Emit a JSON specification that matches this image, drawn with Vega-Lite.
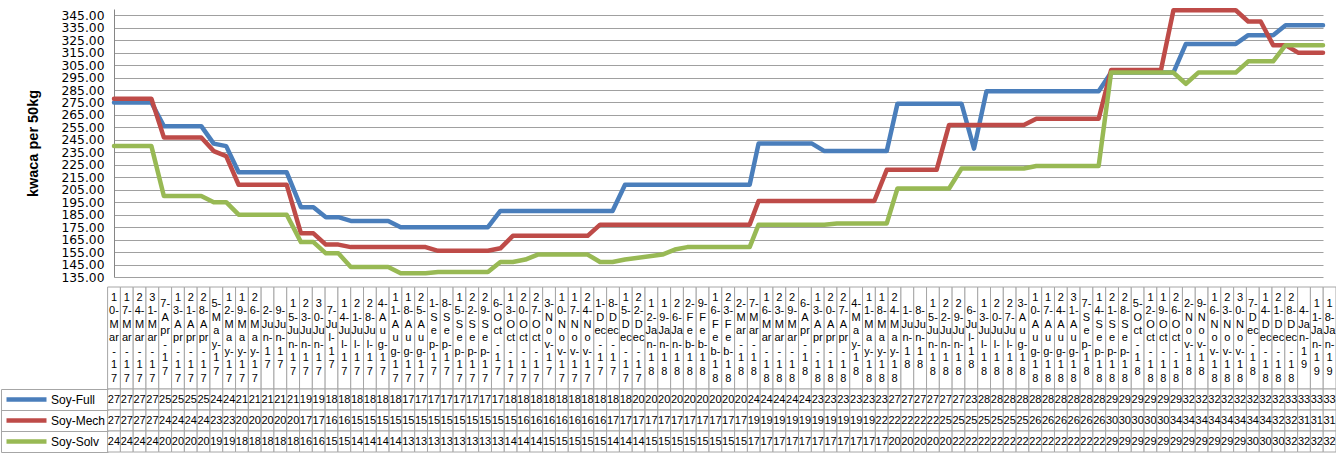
{
  "$schema": "https://vega.github.io/schema/vega-lite/v6.json",
  "padding": {"left": 0, "top": 7, "right": 0, "bottom": 0},
  "background": "white",
  "config": {"view": {"stroke": null}, "font": "Liberation Sans"},
  "datasets": {
    "prices": [
      {"d": "2017-03-10", "Soy-Full": 275, "Soy-Mech": 278, "Soy-Solv": 240},
      {"d": "2017-03-17", "Soy-Full": 275, "Soy-Mech": 278, "Soy-Solv": 240},
      {"d": "2017-03-24", "Soy-Full": 275, "Soy-Mech": 278, "Soy-Solv": 240},
      {"d": "2017-03-31", "Soy-Full": 275, "Soy-Mech": 278, "Soy-Solv": 240},
      {"d": "2017-04-07", "Soy-Full": 256, "Soy-Mech": 247, "Soy-Solv": 200},
      {"d": "2017-04-13", "Soy-Full": 256, "Soy-Mech": 247, "Soy-Solv": 200},
      {"d": "2017-04-21", "Soy-Full": 256, "Soy-Mech": 247, "Soy-Solv": 200},
      {"d": "2017-04-28", "Soy-Full": 256, "Soy-Mech": 247, "Soy-Solv": 200},
      {"d": "2017-05-05", "Soy-Full": 242, "Soy-Mech": 236, "Soy-Solv": 195},
      {"d": "2017-05-12", "Soy-Full": 240, "Soy-Mech": 232, "Soy-Solv": 195},
      {"d": "2017-05-19", "Soy-Full": 219, "Soy-Mech": 209, "Soy-Solv": 185},
      {"d": "2017-05-26", "Soy-Full": 219, "Soy-Mech": 209, "Soy-Solv": 185},
      {"d": "2017-06-02", "Soy-Full": 219, "Soy-Mech": 209, "Soy-Solv": 185},
      {"d": "2017-06-09", "Soy-Full": 219, "Soy-Mech": 209, "Soy-Solv": 185},
      {"d": "2017-06-15", "Soy-Full": 219, "Soy-Mech": 209, "Soy-Solv": 185},
      {"d": "2017-06-23", "Soy-Full": 191, "Soy-Mech": 170, "Soy-Solv": 163},
      {"d": "2017-06-30", "Soy-Full": 191, "Soy-Mech": 170, "Soy-Solv": 163},
      {"d": "2017-07-07", "Soy-Full": 183, "Soy-Mech": 161, "Soy-Solv": 154},
      {"d": "2017-07-14", "Soy-Full": 183, "Soy-Mech": 161, "Soy-Solv": 154},
      {"d": "2017-07-21", "Soy-Full": 180, "Soy-Mech": 159, "Soy-Solv": 143},
      {"d": "2017-07-28", "Soy-Full": 180, "Soy-Mech": 159, "Soy-Solv": 143},
      {"d": "2017-08-04", "Soy-Full": 180, "Soy-Mech": 159, "Soy-Solv": 143},
      {"d": "2017-08-11", "Soy-Full": 180, "Soy-Mech": 159, "Soy-Solv": 143},
      {"d": "2017-08-18", "Soy-Full": 175, "Soy-Mech": 159, "Soy-Solv": 138},
      {"d": "2017-08-25", "Soy-Full": 175, "Soy-Mech": 159, "Soy-Solv": 138},
      {"d": "2017-09-01", "Soy-Full": 175, "Soy-Mech": 159, "Soy-Solv": 138},
      {"d": "2017-09-08", "Soy-Full": 175, "Soy-Mech": 156, "Soy-Solv": 139},
      {"d": "2017-09-15", "Soy-Full": 175, "Soy-Mech": 156, "Soy-Solv": 139},
      {"d": "2017-09-22", "Soy-Full": 175, "Soy-Mech": 156, "Soy-Solv": 139},
      {"d": "2017-09-29", "Soy-Full": 175, "Soy-Mech": 156, "Soy-Solv": 139},
      {"d": "2017-10-06", "Soy-Full": 175, "Soy-Mech": 156, "Soy-Solv": 139},
      {"d": "2017-10-13", "Soy-Full": 188, "Soy-Mech": 158, "Soy-Solv": 147},
      {"d": "2017-10-20", "Soy-Full": 188, "Soy-Mech": 168, "Soy-Solv": 147},
      {"d": "2017-10-27", "Soy-Full": 188, "Soy-Mech": 168, "Soy-Solv": 149},
      {"d": "2017-11-03", "Soy-Full": 188, "Soy-Mech": 168, "Soy-Solv": 153},
      {"d": "2017-11-10", "Soy-Full": 188, "Soy-Mech": 168, "Soy-Solv": 153},
      {"d": "2017-11-17", "Soy-Full": 188, "Soy-Mech": 168, "Soy-Solv": 153},
      {"d": "2017-11-24", "Soy-Full": 188, "Soy-Mech": 168, "Soy-Solv": 153},
      {"d": "2017-12-01", "Soy-Full": 188, "Soy-Mech": 168, "Soy-Solv": 153},
      {"d": "2017-12-08", "Soy-Full": 188, "Soy-Mech": 177, "Soy-Solv": 147},
      {"d": "2017-12-15", "Soy-Full": 188, "Soy-Mech": 177, "Soy-Solv": 147},
      {"d": "2017-12-22", "Soy-Full": 209, "Soy-Mech": 177, "Soy-Solv": 149},
      {"d": "2018-01-12", "Soy-Full": 209, "Soy-Mech": 177, "Soy-Solv": 153},
      {"d": "2018-01-19", "Soy-Full": 209, "Soy-Mech": 177, "Soy-Solv": 157},
      {"d": "2018-01-26", "Soy-Full": 209, "Soy-Mech": 177, "Soy-Solv": 159},
      {"d": "2018-02-02", "Soy-Full": 209, "Soy-Mech": 177, "Soy-Solv": 159},
      {"d": "2018-02-09", "Soy-Full": 209, "Soy-Mech": 177, "Soy-Solv": 159},
      {"d": "2018-02-16", "Soy-Full": 209, "Soy-Mech": 177, "Soy-Solv": 159},
      {"d": "2018-02-23", "Soy-Full": 209, "Soy-Mech": 177, "Soy-Solv": 159},
      {"d": "2018-03-02", "Soy-Full": 209, "Soy-Mech": 177, "Soy-Solv": 159},
      {"d": "2018-03-07", "Soy-Full": 242, "Soy-Mech": 196, "Soy-Solv": 177},
      {"d": "2018-03-16", "Soy-Full": 242, "Soy-Mech": 196, "Soy-Solv": 177},
      {"d": "2018-03-23", "Soy-Full": 242, "Soy-Mech": 196, "Soy-Solv": 177},
      {"d": "2018-03-29", "Soy-Full": 242, "Soy-Mech": 196, "Soy-Solv": 177},
      {"d": "2018-04-06", "Soy-Full": 242, "Soy-Mech": 196, "Soy-Solv": 177},
      {"d": "2018-04-13", "Soy-Full": 236, "Soy-Mech": 196, "Soy-Solv": 177},
      {"d": "2018-04-20", "Soy-Full": 236, "Soy-Mech": 196, "Soy-Solv": 178},
      {"d": "2018-04-27", "Soy-Full": 236, "Soy-Mech": 196, "Soy-Solv": 178},
      {"d": "2018-05-04", "Soy-Full": 236, "Soy-Mech": 196, "Soy-Solv": 178},
      {"d": "2018-05-11", "Soy-Full": 236, "Soy-Mech": 196, "Soy-Solv": 178},
      {"d": "2018-05-18", "Soy-Full": 236, "Soy-Mech": 221, "Soy-Solv": 178},
      {"d": "2018-05-24", "Soy-Full": 274, "Soy-Mech": 221, "Soy-Solv": 206},
      {"d": "2018-06-01", "Soy-Full": 274, "Soy-Mech": 221, "Soy-Solv": 206},
      {"d": "2018-06-08", "Soy-Full": 274, "Soy-Mech": 221, "Soy-Solv": 206},
      {"d": "2018-06-15", "Soy-Full": 274, "Soy-Mech": 221, "Soy-Solv": 206},
      {"d": "2018-06-22", "Soy-Full": 274, "Soy-Mech": 257, "Soy-Solv": 206},
      {"d": "2018-06-29", "Soy-Full": 274, "Soy-Mech": 257, "Soy-Solv": 222},
      {"d": "2018-07-06", "Soy-Full": 238, "Soy-Mech": 257, "Soy-Solv": 222},
      {"d": "2018-07-13", "Soy-Full": 284, "Soy-Mech": 257, "Soy-Solv": 222},
      {"d": "2018-07-20", "Soy-Full": 284, "Soy-Mech": 257, "Soy-Solv": 222},
      {"d": "2018-07-27", "Soy-Full": 284, "Soy-Mech": 257, "Soy-Solv": 222},
      {"d": "2018-08-03", "Soy-Full": 284, "Soy-Mech": 257, "Soy-Solv": 222},
      {"d": "2018-08-10", "Soy-Full": 284, "Soy-Mech": 262, "Soy-Solv": 224},
      {"d": "2018-08-17", "Soy-Full": 284, "Soy-Mech": 262, "Soy-Solv": 224},
      {"d": "2018-08-24", "Soy-Full": 284, "Soy-Mech": 262, "Soy-Solv": 224},
      {"d": "2018-08-31", "Soy-Full": 284, "Soy-Mech": 262, "Soy-Solv": 224},
      {"d": "2018-09-07", "Soy-Full": 284, "Soy-Mech": 262, "Soy-Solv": 224},
      {"d": "2018-09-14", "Soy-Full": 284, "Soy-Mech": 262, "Soy-Solv": 224},
      {"d": "2018-09-21", "Soy-Full": 299, "Soy-Mech": 301, "Soy-Solv": 299},
      {"d": "2018-09-28", "Soy-Full": 299, "Soy-Mech": 301, "Soy-Solv": 299},
      {"d": "2018-10-05", "Soy-Full": 299, "Soy-Mech": 301, "Soy-Solv": 299},
      {"d": "2018-10-12", "Soy-Full": 299, "Soy-Mech": 301, "Soy-Solv": 299},
      {"d": "2018-10-19", "Soy-Full": 299, "Soy-Mech": 301, "Soy-Solv": 299},
      {"d": "2018-10-26", "Soy-Full": 299, "Soy-Mech": 349, "Soy-Solv": 299},
      {"d": "2018-11-02", "Soy-Full": 322, "Soy-Mech": 349, "Soy-Solv": 290},
      {"d": "2018-11-09", "Soy-Full": 322, "Soy-Mech": 349, "Soy-Solv": 299},
      {"d": "2018-11-16", "Soy-Full": 322, "Soy-Mech": 349, "Soy-Solv": 299},
      {"d": "2018-11-23", "Soy-Full": 322, "Soy-Mech": 349, "Soy-Solv": 299},
      {"d": "2018-11-30", "Soy-Full": 322, "Soy-Mech": 349, "Soy-Solv": 299},
      {"d": "2018-12-07", "Soy-Full": 329, "Soy-Mech": 340, "Soy-Solv": 308},
      {"d": "2018-12-14", "Soy-Full": 329, "Soy-Mech": 340, "Soy-Solv": 308},
      {"d": "2018-12-21", "Soy-Full": 329, "Soy-Mech": 321, "Soy-Solv": 308},
      {"d": "2018-12-28", "Soy-Full": 337, "Soy-Mech": 321, "Soy-Solv": 321},
      {"d": "2019-01-04", "Soy-Full": 337, "Soy-Mech": 315, "Soy-Solv": 321},
      {"d": "2019-01-11", "Soy-Full": 337, "Soy-Mech": 315, "Soy-Solv": 321},
      {"d": "2019-01-18", "Soy-Full": 337, "Soy-Mech": 315, "Soy-Solv": 321}
    ]
  },
  "data": {"name": "prices"},
  "spacing": 10,
  "bounds": "flush",
  "resolve": {"scale": {"x": "independent"}},
  "vconcat": [
    {
      "width": 1209,
      "height": 268,
      "transform": [{"fold": ["Soy-Full", "Soy-Mech", "Soy-Solv"], "as": ["series", "value"]}],
      "mark": {"type": "line", "strokeWidth": 4.5, "strokeJoin": "round", "strokeCap": "round"},
      "encoding": {
        "x": {"field": "d", "type": "temporal", "axis": null, "scale": {"nice": false}},
        "y": {
          "field": "value", "type": "quantitative",
          "scale": {"domain": [135, 350], "nice": false, "zero": false},
          "axis": {
            "values": [135, 145, 155, 165, 175, 185, 195, 205, 215, 225, 235, 245, 255, 265, 275, 285, 295, 305, 315, 325, 335, 345],
            "format": ".2f",
            "title": "kwaca per 50kg",
            "titleFontSize": 14.5, "titleFontWeight": "bold", "titleColor": "#000000", "titlePadding": 20,
            "labelFont": "DejaVu Sans", "labelFontSize": 12.3, "labelColor": "#000000", "labelPadding": 10,
            "labelOverlap": false, "labelFlush": false, "labelBound": false,
            "ticks": false, "domainColor": "#868686",
            "gridColor": "#A0A0A0", "gridWidth": 1
          }
        },
        "color": {
          "field": "series", "type": "nominal",
          "scale": {"domain": ["Soy-Full", "Soy-Mech", "Soy-Solv"], "range": ["#4A7EBB", "#BE4B48", "#98B954"]},
          "legend": {
            "orient": "none", "legendX": -110, "legendY": 380, "title": null,
            "symbolType": "stroke", "symbolSize": 1600, "symbolStrokeWidth": 4.5,
            "labelFontSize": 12, "labelColor": "#000000", "labelOffset": 2,
            "clipHeight": 21, "rowPadding": 0, "padding": 0, "symbolOffset": 0
          }
        }
      }
    },
    {
      "spacing": 0,
      "bounds": "flush",
      "vconcat": [
        {
          "width": 1209,
          "height": 102,
          "mark": {"type": "rect", "fill": "white", "stroke": "#A6A6A6", "strokeWidth": 1},
          "encoding": {
            "x": {
              "field": "d", "type": "ordinal", "sort": null,
              "scale": {"type": "band", "range": [-6.4, 1222], "paddingInner": 0, "paddingOuter": 0},
              "axis": {
                "orient": "top", "ticks": false, "domain": false, "title": null, "zindex": 2,
                "labelAngle": 0, "labelAlign": "center", "labelBaseline": "top",
                "labelPadding": {
                  "condition": [
                    {"test": "length(split(replace(utcFormat(toDate(datum.value), '%-d-%b-%y'), regexp('(ar|Ju|Ja|ct|ec|pr|[0-9A-Za-z]-|.)(?!$)', 'g'), '$1|'), '|')) == 6", "value": -10.75},
                    {"test": "length(split(replace(utcFormat(toDate(datum.value), '%-d-%b-%y'), regexp('(ar|Ju|Ja|ct|ec|pr|[0-9A-Za-z]-|.)(?!$)', 'g'), '$1|'), '|')) == 5", "value": -17.5}
                  ],
                  "value": -4
                },
                "labelExpr": "split(replace(utcFormat(toDate(datum.value), '%-d-%b-%y'), regexp('(ar|Ju|Ja|ct|ec|pr|[0-9A-Za-z]-|.)(?!$)', 'g'), '$1|'), '|')",
                "labelFontSize": 11, "labelLineHeight": 13.5, "labelColor": "#000000",
                "labelOverlap": false, "labelFlush": false, "labelBound": false, "labelLimit": 0
              }
            }
          }
        },
        {
          "width": 1209,
          "height": 63,
          "transform": [{"fold": ["Soy-Full", "Soy-Mech", "Soy-Solv"], "as": ["series", "value"]}],
          "encoding": {
            "x": {
              "field": "d", "type": "ordinal", "sort": null,
              "scale": {"type": "band", "range": [-6.4, 1222], "paddingInner": 0, "paddingOuter": 0},
              "axis": null
            },
            "y": {
              "field": "series", "type": "nominal", "sort": ["Soy-Full", "Soy-Mech", "Soy-Solv"],
              "scale": {"paddingInner": 0, "paddingOuter": 0},
              "axis": {
                "orient": "left", "offset": 113, "tickSize": -107, "tickBand": "extent",
                "labels": false, "title": null, "grid": false,
                "domainColor": "#A6A6A6", "tickColor": "#A6A6A6"
              }
            }
          },
          "layer": [
            {"mark": {"type": "rect", "fill": "white", "stroke": "#A6A6A6", "strokeWidth": 1}},
            {
              "mark": {"type": "text", "fontSize": 11, "limit": 12.6, "ellipsis": "\u200b", "color": "#000000"},
              "encoding": {"text": {"field": "value", "type": "quantitative"}}
            }
          ]
        }
      ]
    }
  ]
}
